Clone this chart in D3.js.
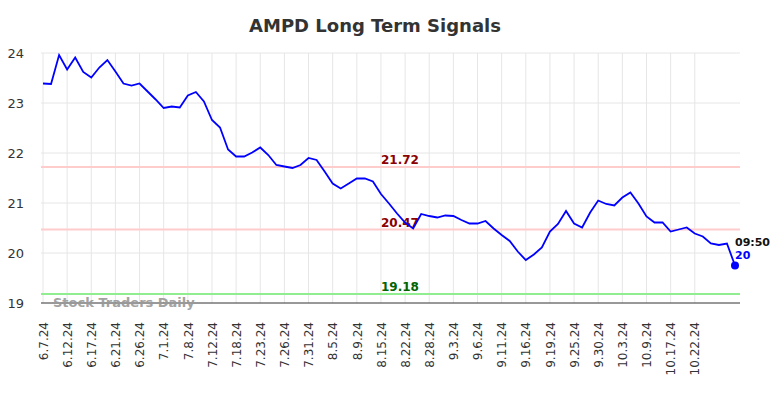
<!DOCTYPE html>
<html>
<head>
<meta charset="utf-8">
<script src="https://cdn.jsdelivr.net/npm/d3@7"></script>
<style>
  body { margin: 0; background: #fff; }
  svg { font-family: "DejaVu Sans", sans-serif; }
</style>
</head>
<body>
<svg id="chart" width="784" height="398"></svg>
<script>
// tick labels, one every 3 trading days
var tickLabels = ["6.7.24", "6.12.24", "6.17.24", "6.21.24", "6.26.24", "7.1.24", "7.8.24",
  "7.12.24", "7.18.24", "7.23.24", "7.26.24", "7.31.24", "8.5.24", "8.9.24", "8.15.24",
  "8.22.24", "8.28.24", "9.3.24", "9.6.24", "9.11.24", "9.16.24", "9.19.24", "9.25.24",
  "9.30.24", "10.3.24", "10.9.24", "10.17.24", "10.22.24"];

// closing prices
var prices = [23.39, 23.38, 23.96, 23.67, 23.91, 23.62, 23.51, 23.71, 23.86, 23.63,
  23.39, 23.35, 23.39, 23.23, 23.07, 22.90, 22.93, 22.91, 23.15, 23.22,
  23.03, 22.66, 22.51, 22.07, 21.93, 21.93, 22.01, 22.11, 21.96, 21.76,
  21.73, 21.70, 21.76, 21.90, 21.86, 21.63, 21.39, 21.29, 21.39, 21.49,
  21.49, 21.43, 21.18, 20.99, 20.79, 20.61, 20.49, 20.78, 20.74, 20.71,
  20.75, 20.74, 20.66, 20.59, 20.59, 20.64, 20.49, 20.36, 20.24, 20.03,
  19.86, 19.97, 20.11, 20.43, 20.58, 20.84, 20.59, 20.51, 20.81, 21.05,
  20.98, 20.95, 21.11, 21.21, 20.99, 20.73, 20.61, 20.61, 20.43, 20.47,
  20.51, 20.39, 20.33, 20.19, 20.16, 20.19, 19.75];

var yTicks = [19, 20, 21, 22, 23, 24];
var signalLevels = [21.72, 20.47, 19.18];
var signalColors = ["#8b0000", "#8b0000", "#006400"];
var signalLineColors = ["#ffcccc", "#ffcccc", "#90ee90"];
var lastTime = "09:50";
var lastLabel = "20";

var svg = d3.select("#chart");
var plotLeft = 41, plotRight = 740, plotTop = 53, plotBottom = 303;

var x = d3.scaleLinear().domain([0, prices.length - 1]).range([43, 735]);
var y = d3.scaleLinear().domain([19, 24]).range([plotBottom, plotTop]);

// title
svg.append("text")
  .attr("x", 375).attr("y", 32)
  .attr("text-anchor", "middle")
  .attr("font-size", 18).attr("font-weight", "bold")
  .attr("fill", "#333")
  .text("AMPD Long Term Signals");

var tickIdx = tickLabels.map((d, i) => i * 3);

// grid
svg.append("g").selectAll("line")
  .data(tickIdx).enter().append("line")
  .attr("x1", d => x(d)).attr("x2", d => x(d))
  .attr("y1", plotTop).attr("y2", plotBottom)
  .attr("stroke", "#e6e6e6").attr("stroke-width", 1);

svg.append("g").selectAll("line")
  .data(yTicks.filter(d => d > 19)).enter().append("line")
  .attr("x1", plotLeft).attr("x2", plotRight)
  .attr("y1", d => y(d)).attr("y2", d => y(d))
  .attr("stroke", "#e6e6e6").attr("stroke-width", 1);

// y axis labels
var yAxis = svg.append("g")
  .attr("transform", `translate(${plotLeft},0)`)
  .call(d3.axisLeft(y).tickValues(yTicks).tickSize(0).tickPadding(17).tickFormat(d3.format("d")));
yAxis.select(".domain").remove();
yAxis.selectAll("text").attr("font-size", 13).attr("fill", "#333")
  .attr("font-family", "DejaVu Sans, sans-serif");

// signal lines
signalLevels.forEach(function (lv, i) {
  svg.append("line")
    .attr("x1", plotLeft).attr("x2", plotRight)
    .attr("y1", y(lv)).attr("y2", y(lv))
    .attr("stroke", signalLineColors[i]).attr("stroke-width", 2);
  svg.append("text")
    .attr("x", 400).attr("y", y(lv) - 3)
    .attr("text-anchor", "middle")
    .attr("font-size", 12).attr("font-weight", "bold")
    .attr("fill", signalColors[i])
    .text(lv.toFixed(2));
});

// bottom axis
var xAxis = svg.append("g")
  .attr("transform", `translate(0,${plotBottom})`)
  .call(d3.axisBottom(x).tickValues(tickIdx).tickSize(0).tickFormat((d, i) => tickLabels[i]));
xAxis.select(".domain").remove();
xAxis.selectAll("text")
  .attr("font-size", 12).attr("fill", "#333")
  .attr("font-family", "DejaVu Sans, sans-serif")
  .attr("transform", "rotate(-90)")
  .attr("text-anchor", "end")
  .attr("x", -19).attr("y", 0).attr("dy", "0.35em");

svg.append("line")
  .attr("x1", plotLeft).attr("x2", plotRight)
  .attr("y1", plotBottom).attr("y2", plotBottom)
  .attr("stroke", "#333").attr("stroke-width", 1);

// watermark
svg.append("text")
  .attr("x", 53).attr("y", 307)
  .attr("font-size", 13).attr("font-weight", "bold")
  .attr("fill", "#999").attr("opacity", 0.9)
  .text("Stock Traders Daily");

// price line
var line = d3.line().x((d, i) => x(i)).y(d => y(d));
svg.append("path")
  .datum(prices)
  .attr("fill", "none")
  .attr("stroke", "blue")
  .attr("stroke-width", 1.8)
  .attr("d", line);

var lastI = prices.length - 1;
svg.append("circle")
  .attr("cx", x(lastI)).attr("cy", y(prices[lastI]))
  .attr("r", 4).attr("fill", "blue");

svg.append("text")
  .attr("x", x(lastI)).attr("y", 246)
  .attr("font-size", 11).attr("font-weight", "bold").attr("fill", "#111")
  .text(lastTime);
svg.append("text")
  .attr("x", x(lastI)).attr("y", 259)
  .attr("font-size", 11).attr("font-weight", "bold").attr("fill", "blue")
  .text(lastLabel);
</script>
</body>
</html>
